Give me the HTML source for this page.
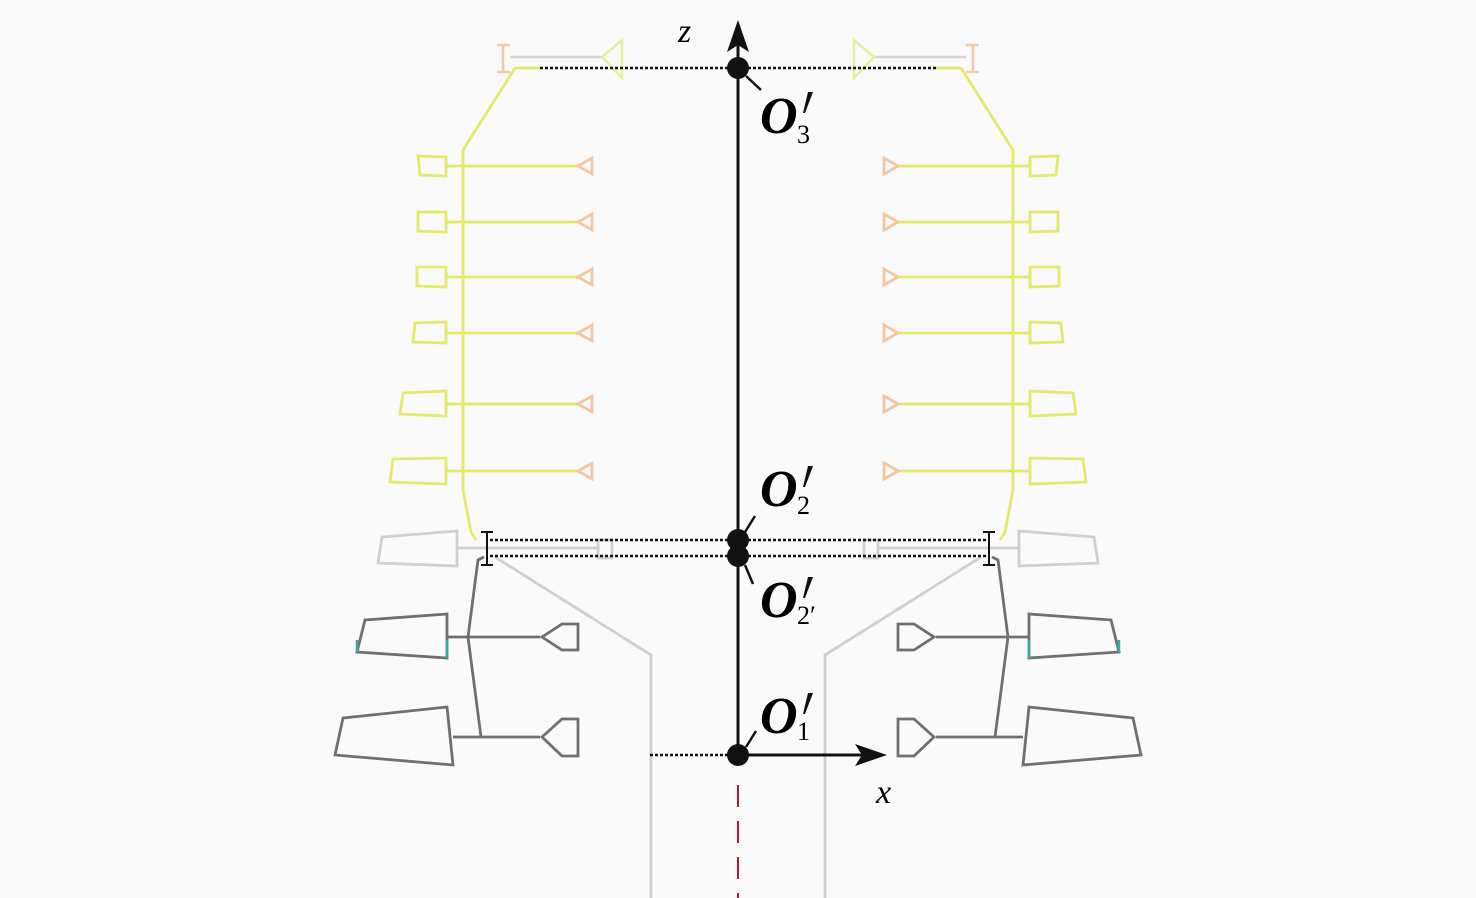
<!DOCTYPE html>
<html><head><meta charset="utf-8"><style>
html,body{margin:0;padding:0;background:#fafafa;}
svg{display:block;}
text{font-family:"Liberation Serif",serif;}
</style></head><body>
<svg width="1476" height="898" viewBox="0 0 1476 898" xmlns="http://www.w3.org/2000/svg">
<defs>
<g id="half">
  <path d="M497,45 L510,45 M497,72 L510,72 M503,45 L503,72" stroke="#f5c9a8" stroke-width="2.5" fill="none"/>
  <line x1="510" y1="57" x2="602" y2="57" stroke="#d4d4d4" stroke-width="2.5"/>
  <polygon points="602,57 622,40 622,78" fill="none" stroke="#e6ef9a" stroke-width="2.5"/>
  <polyline points="515,68 540,68" stroke="#e0ea60" stroke-width="2.5" fill="none"/>
  <polyline points="515,68 463,150 463,490 471,532 476,540" stroke="#e3e96a" stroke-width="2.8" fill="none"/>
  <g stroke="#e3e96a" stroke-width="2.8" fill="none">
    <polygon points="418,156 446,157 446,176 420,175"/><line x1="446" y1="166" x2="580" y2="166"/>
    <polygon points="418,212 446,212 446,232 418,231"/><line x1="446" y1="222" x2="580" y2="222"/>
    <polygon points="417,267 446,267 446,287 417,286"/><line x1="446" y1="277" x2="580" y2="277"/>
    <polygon points="415,323 446,322 446,343 413,342"/><line x1="446" y1="333" x2="580" y2="333"/>
    <polygon points="403,393 446,391 446,416 400,414"/><line x1="446" y1="404" x2="580" y2="404"/>
    <polygon points="393,459 446,458 446,484 390,482"/><line x1="446" y1="471" x2="580" y2="471"/>
  </g>
  <g stroke="#f2c6a0" stroke-width="2.8" fill="none">
    <polygon points="578,166 592,158 592,174"/>
    <polygon points="578,222 592,214 592,230"/>
    <polygon points="578,277 592,269 592,285"/>
    <polygon points="578,333 592,325 592,341"/>
    <polygon points="578,404 592,396 592,412"/>
    <polygon points="578,471 592,463 592,479"/>
  </g>
  <g stroke="#cfcfcf" stroke-width="2.8" fill="none">
    <polygon points="382,537 457,531 457,566 378,563"/>
    <line x1="457" y1="548" x2="598" y2="548"/>
    <polygon points="598,540 612,540 612,558 598,558"/>
    <polyline points="495,557 651,655 651,898"/>
  </g>
  <g stroke="#6f6f6f" stroke-width="2.8" fill="none">
    <polyline points="484,557 478,560 468,637 481,737"/>
    <polygon points="365,620 447,614 447,658 357,652"/>
    <line x1="447" y1="637" x2="540" y2="637"/>
    <polygon points="578,624 562,624 542,637 562,650 578,650"/>
    <polygon points="343,718 447,707 453,765 335,755"/>
    <line x1="453" y1="737" x2="540" y2="737"/>
    <polygon points="578,719 562,719 542,737 562,756 578,756"/>
  </g>
  <path d="M447,640 L447,658 M357,640 L357,652" stroke="#3aa89a" stroke-width="2.5"/>
  <path d="M481,532 L493,532 M487,532 L487,565 M481,565 L493,565" stroke="#111" stroke-width="2"/>
  <g stroke="#111" stroke-width="2.5" stroke-dasharray="3,2" fill="none">
    <line x1="540" y1="68" x2="738" y2="68"/>
    <line x1="490" y1="540" x2="738" y2="540"/>
    <line x1="490" y1="556" x2="738" y2="556"/>
  </g>
</g>
</defs>
<rect width="1476" height="898" fill="#fafafa"/>
<use href="#half"/>
<use href="#half" transform="translate(1476,0) scale(-1,1)"/>
<line x1="738" y1="785" x2="738" y2="898" stroke="#c8102e" stroke-width="2" stroke-dasharray="22,14"/>
<line x1="650" y1="755" x2="738" y2="755" stroke="#111" stroke-width="2.5" stroke-dasharray="3,2"/>
<line x1="738" y1="40" x2="738" y2="755" stroke="#111" stroke-width="3"/>
<polygon points="738,20 727,52 738,45 749,52" fill="#111"/>
<line x1="738" y1="755" x2="865" y2="755" stroke="#111" stroke-width="3"/>
<polygon points="887,755 855,744 862,755 855,766" fill="#111"/>
<g fill="#111">
  <circle cx="738" cy="68" r="11"/>
  <circle cx="738" cy="540" r="11"/>
  <circle cx="738" cy="556" r="11"/>
  <circle cx="738" cy="755" r="11"/>
</g>
<g stroke="#111" stroke-width="2.5">
  <line x1="746" y1="76" x2="761" y2="90"/>
  <line x1="745" y1="532" x2="755" y2="516"/>
  <line x1="745" y1="565" x2="753" y2="584"/>
  <line x1="746" y1="747" x2="756" y2="731"/>
</g>
<text x="678" y="42" font-size="34" font-style="italic">z</text>
<text x="876" y="803" font-size="34" font-style="italic">x</text>
<g font-size="52" font-weight="bold" font-style="italic">
  <text x="760" y="133">O</text>
  <text x="760" y="506">O</text>
  <text x="760" y="617">O</text>
  <text x="760" y="733">O</text>
</g>
<g fill="#111">
  <path d="M808,92 L813,92 L805,113 L803,113 Z"/>
  <path d="M808,466 L813,466 L805,487 L803,487 Z"/>
  <path d="M808,577 L813,577 L805,598 L803,598 Z"/>
  <path d="M808,693 L813,693 L805,714 L803,714 Z"/>
</g>
<g font-size="26">
  <text x="797" y="143">3</text>
  <text x="797" y="514">2</text>
  <text x="797" y="624">2′</text>
  <text x="797" y="740">1</text>
</g>
</svg>
</body></html>
